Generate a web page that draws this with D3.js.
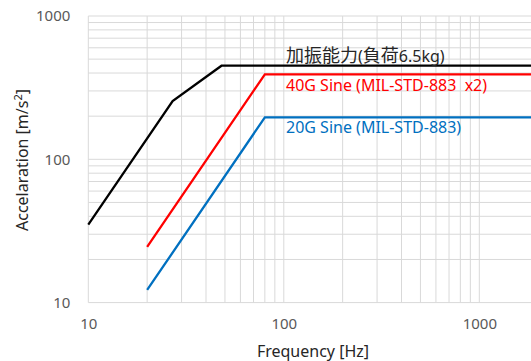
<!DOCTYPE html>
<html>
<head>
<meta charset="utf-8">
<script src="https://cdn.jsdelivr.net/npm/d3@7"></script>
<style>
  body { margin: 0; background: #fff; }
  text { font-family: "Noto Sans", "Noto Sans CJK JP", sans-serif; }
</style>
</head>
<body>
<div id="chart"></div>
<script>
const width = 531;
const height = 361;

// frequency [Hz] / acceleration [m/s2]
const shakerFreq = [10, 27, 48, 2000];
const shakerAccel = [35, 255, 450, 450];
const sine40Freq = [20, 80, 2000];
const sine40Accel = [24.5, 392, 392];
const sine20Freq = [20, 80, 2000];
const sine20Accel = [12.25, 196, 196];

const seriesNames = ["加振能力(負荷6.5kg)", "40G Sine (MIL-STD-883  x2)", "20G Sine (MIL-STD-883)"];
const seriesColors = ["#000000", "#ff0000", "#0070c0"];
const labelColors = ["#262626", "#ff0000", "#0070c0"];

const xTicks = [10, 100, 1000];
const yTicks = [10, 100, 1000];

const svg = d3.select("#chart")
  .append("svg")
  .attr("width", width)
  .attr("height", height);

const x = d3.scaleLog().domain([10, 1000]).range([88.3, 479.3]);
const y = d3.scaleLog().domain([10, 1000]).range([302.6, 16]);
const xMax = x.invert(width + 5);

// minor + major gridlines
const xGrid = [];
for (let dec = 10; dec < xMax; dec *= 10) {
  for (let k = 1; k < 10; k++) if (dec * k <= xMax) xGrid.push(dec * k);
}
const yGrid = [];
for (let dec = 10; dec < 1000; dec *= 10) {
  for (let k = 1; k < 10; k++) yGrid.push(dec * k);
}
yGrid.push(1000);

const grid = svg.append("g").attr("stroke", "#d9d9d9").attr("stroke-width", 1);
grid.selectAll(".vx")
  .data(xGrid)
  .enter()
  .append("line")
  .attr("x1", d => x(d))
  .attr("x2", d => x(d))
  .attr("y1", y(1000))
  .attr("y2", y(10));
grid.selectAll(".hy")
  .data(yGrid)
  .enter()
  .append("line")
  .attr("x1", x(10))
  .attr("x2", width)
  .attr("y1", d => y(d))
  .attr("y2", d => y(d));

// axes, only labels shown
const xAxis = d3.axisBottom(x).tickValues(xTicks).tickFormat(d3.format("d")).tickSize(0).tickPadding(16);
const yAxis = d3.axisLeft(y).tickValues(yTicks).tickFormat(d3.format("d")).tickSize(0).tickPadding(18);

svg.append("g")
  .attr("transform", `translate(0, ${y(10)})`)
  .call(xAxis)
  .call(g => g.select(".domain").remove())
  .call(g => g.selectAll("text").attr("fill", "#595959").style("font-size", "15px"));

svg.append("g")
  .attr("transform", `translate(${x(10)}, 0)`)
  .call(yAxis)
  .call(g => g.select(".domain").remove())
  .call(g => g.selectAll("text").attr("fill", "#595959").style("font-size", "15px"));

svg.append("text")
  .attr("x", 313)
  .attr("y", 357)
  .attr("text-anchor", "middle")
  .attr("fill", "#262626")
  .style("font-size", "16px")
  .text("Frequency [Hz]");

svg.append("text")
  .attr("transform", "translate(28, 160) rotate(-90)")
  .attr("text-anchor", "middle")
  .attr("fill", "#262626")
  .style("font-size", "16px")
  .html('Accelaration [m/s<tspan dy="-6" style="font-size:11px">2</tspan><tspan dy="6">]</tspan>');

// series
const series = [
  shakerFreq.map((f, i) => [f, shakerAccel[i]]),
  sine40Freq.map((f, i) => [f, sine40Accel[i]]),
  sine20Freq.map((f, i) => [f, sine20Accel[i]])
];

const line = d3.line().x(d => x(d[0])).y(d => y(d[1]));

svg.selectAll(".series")
  .data(series)
  .enter()
  .append("path")
  .attr("class", "series")
  .attr("fill", "none")
  .attr("stroke", (d, i) => seriesColors[i])
  .attr("stroke-width", 2.3)
  .attr("stroke-linejoin", "miter")
  .attr("d", line);

// labels: CJK characters drawn a little larger
const labelY = [61.7, 90.7, 133];
const labels = svg.selectAll(".label")
  .data(seriesNames)
  .enter()
  .append("text")
  .attr("class", "label")
  .attr("x", 286)
  .attr("y", (d, i) => labelY[i])
  .attr("fill", (d, i) => labelColors[i])
  .style("font-size", "16px")
  .attr("xml:space", "preserve");

labels.selectAll("tspan")
  .data(d => d.match(/[\u3000-\u9fff]+|[^\u3000-\u9fff]+/g))
  .enter()
  .append("tspan")
  .style("font-size", d => /[\u3000-\u9fff]/.test(d) ? "18px" : "16px")
  .text(d => d);
</script>
</body>
</html>
